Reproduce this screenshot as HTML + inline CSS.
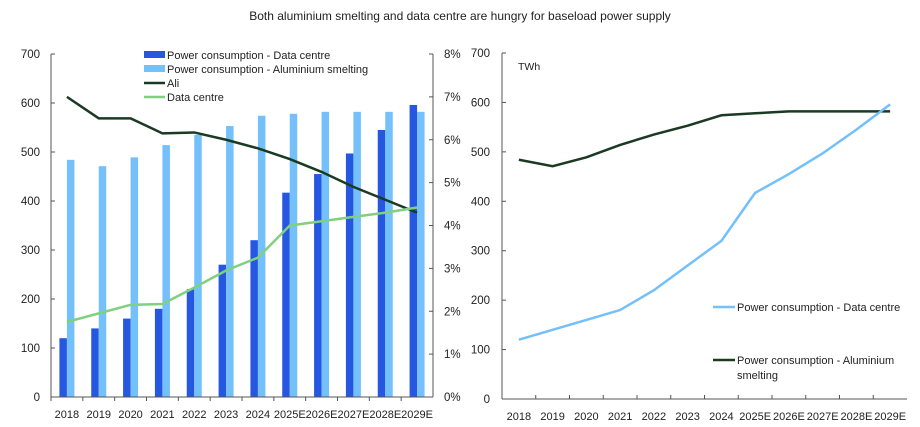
<!DOCTYPE html><html><head><meta charset="utf-8"><style>body{margin:0;background:#fff}svg{display:block;font-family:"Liberation Sans",sans-serif}</style></head><body>
<svg width="920" height="427" xmlns="http://www.w3.org/2000/svg">
<text x="460" y="20" font-size="12" text-anchor="middle" fill="#222">Both aluminium smelting and data centre are hungry for baseload power supply</text>
<g id="L"></g><g id="R"></g>
</svg>
<script>
const ns="http://www.w3.org/2000/svg";
function el(p,t,a,txt){const e=document.createElementNS(ns,t);for(const k in a)e.setAttribute(k,a[k]);if(txt!==undefined)e.textContent=txt;p.appendChild(e);return e;}
const cats=["2018","2019","2020","2021","2022","2023","2024","2025E","2026E","2027E","2028E","2029E"];
const dc=[120,140,160,180,220,270,320,417,455,497,545,596];
const al=[484,471,489,514,535,553,574,578,582,582,582,582];
const ali=[7.0,6.5,6.5,6.15,6.17,6.0,5.8,5.55,5.25,4.9,4.6,4.3];
const dcp=[1.75,1.95,2.15,2.17,2.55,2.95,3.25,4.0,4.1,4.2,4.3,4.42];
const L=document.getElementById("L");
const x0=51,x1=433,yb=397,yt=54,w=(x1-x0)/12,sy=v=>yb-v*(yb-yt)/700,sp=v=>yb-v*(yb-yt)/8;
for(let i=0;i<=7;i++){const y=sy(i*100);el(L,"text",{x:40,y:y+4,"font-size":11.5,"text-anchor":"end",fill:"#222"},i*100);el(L,"line",{x1:x0,x2:x0+4,y1:y,y2:y,stroke:"#555"});}
for(let i=0;i<=8;i++){const y=sp(i);el(L,"text",{x:444,y:y+4,"font-size":11.5,fill:"#222"},i+"%");el(L,"line",{x1:x1-4,x2:x1,y1:y,y2:y,stroke:"#555"});}
cats.forEach((c,i)=>{const cx=x0+w*(i+.5);
el(L,"rect",{x:cx-7.5,y:sy(dc[i]),width:7.5,height:yb-sy(dc[i]),fill:"#2557e0"});
el(L,"rect",{x:cx,y:sy(al[i]),width:7.5,height:yb-sy(al[i]),fill:"#74c0fb"});
el(L,"text",{x:cx,y:418,"font-size":11,"text-anchor":"middle",fill:"#222"},c);
el(L,"line",{x1:x0+w*i,x2:x0+w*i,y1:yb,y2:yb+4,stroke:"#555"});});
el(L,"line",{x1:x0,x2:x0,y1:yt,y2:yb,stroke:"#555"});el(L,"line",{x1:x1,x2:x1,y1:yt,y2:yb,stroke:"#555"});el(L,"line",{x1:x0,x2:x1,y1:yb,y2:yb,stroke:"#555"});
el(L,"polyline",{points:ali.map((v,i)=>(x0+w*(i+.5))+","+sp(v)).join(" "),fill:"none",stroke:"#1b3a24","stroke-width":2.5});
el(L,"polyline",{points:dcp.map((v,i)=>(x0+w*(i+.5))+","+sp(v)).join(" "),fill:"none",stroke:"#7fd07f","stroke-width":2.5});
const lg=[["r","#2557e0","Power consumption - Data centre"],["r","#74c0fb","Power consumption - Aluminium smelting"],["l","#1b3a24","Ali"],["l","#7fd07f","Data centre"]];
lg.forEach((g,i)=>{const y=55+i*14;if(g[0]=="r")el(L,"rect",{x:144,y:y-4,width:21,height:7,fill:g[1]});else el(L,"line",{x1:144,x2:165,y1:y,y2:y,stroke:g[1],"stroke-width":2.5});el(L,"text",{x:167,y:y+4,"font-size":11,fill:"#222"},g[2]);});
const R=document.getElementById("R");
const rx0=502,rx1=907,rb=399,rt=53,rw=(rx1-rx0)/12,ry=v=>rb-v*(rb-rt)/700;
for(let i=0;i<=7;i++){el(R,"text",{x:490,y:ry(i*100)+4,"font-size":11.5,"text-anchor":"end",fill:"#222"},i*100);el(R,"line",{x1:rx0,x2:rx0+4,y1:ry(i*100),y2:ry(i*100),stroke:"#555"});}
el(R,"line",{x1:rx0,x2:rx0,y1:rt,y2:rb,stroke:"#555"});el(R,"line",{x1:rx0,x2:rx1,y1:rb,y2:rb,stroke:"#555"});
cats.forEach((c,i)=>{const cx=rx0+rw*(i+.5);el(R,"text",{x:cx,y:420,"font-size":11,"text-anchor":"middle",fill:"#222"},c);el(R,"line",{x1:rx0+rw*i,x2:rx0+rw*i,y1:rb,y2:rb-4,stroke:"#555"});});
el(R,"text",{x:518,y:70,"font-size":10.5,fill:"#222"},"TWh");
el(R,"polyline",{points:al.map((v,i)=>(rx0+rw*(i+.5))+","+ry(v)).join(" "),fill:"none",stroke:"#1b3a24","stroke-width":2.5});
el(R,"polyline",{points:dc.map((v,i)=>(rx0+rw*(i+.5))+","+ry(v)).join(" "),fill:"none",stroke:"#74c0fb","stroke-width":2.5});
el(R,"line",{x1:713,x2:735,y1:307,y2:307,stroke:"#74c0fb","stroke-width":2.5});el(R,"text",{x:737,y:311,"font-size":11,fill:"#222"},"Power consumption - Data centre");
el(R,"line",{x1:713,x2:735,y1:360,y2:360,stroke:"#1b3a24","stroke-width":2.5});el(R,"text",{x:737,y:364,"font-size":11,fill:"#222"},"Power consumption - Aluminium");el(R,"text",{x:737,y:379,"font-size":11,fill:"#222"},"smelting");
</script></body></html>
